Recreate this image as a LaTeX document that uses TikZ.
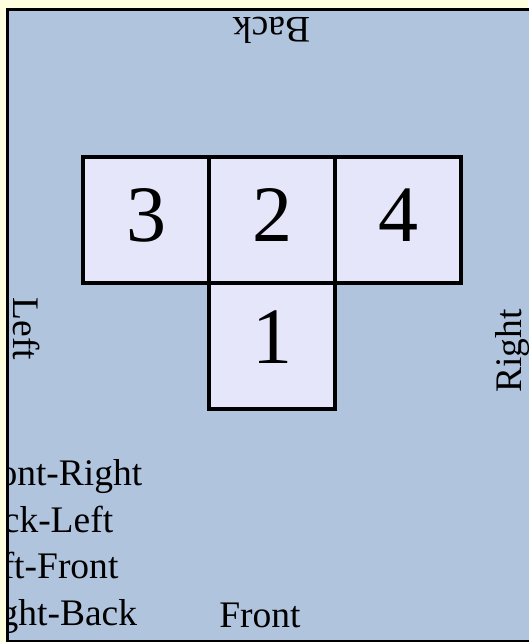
\documentclass[tikz,border=0pt]{standalone}
\usepackage{fontspec}
\setmainfont{Liberation Serif}
\definecolor{bgyellow}{HTML}{FFFFE0}
\definecolor{panel}{HTML}{B0C4DE}
\definecolor{face}{HTML}{E6E6FA}
\begin{document}
\begin{tikzpicture}[x=1pt,y=-1pt,
  sq/.style={draw=black, fill=face, line width=4pt, minimum size=126pt, inner sep=0pt, outer sep=0pt},
  num/.style={font=\fontsize{80}{96}\selectfont, inner sep=0pt, anchor=base},
  lbl/.style={font=\fontsize{37.5}{45}\selectfont, inner sep=0pt, anchor=base}]
\useasboundingbox (0,0) rectangle (528,642);
\fill[bgyellow] (0,0) rectangle (528,642);
\draw[line width=3pt, fill=panel] (7.5,10) rectangle (540,641);
% squares
\node[sq] (s3) at (146,220) {};
\node[sq] (s2) at (272,220) {};
\node[sq] (s4) at (398,220) {};
\node[sq] (s1) at (272,345.5) {};
\node[num] (n3) at (146,241) {3};
\node[num] (n2) at (272,241) {2};
\node[num] (n4) at (398,241) {4};
\node[num] (n1) at (272,363) {1};
% side labels
\node[lbl, rotate=180] (back) at (271.5,18) {Back};
\node[lbl] (front) at (260,627) {Front};
\node[lbl, rotate=-90] (left) at (13,329) {Left};
\node[lbl, rotate=90] (right) at (521,351) {Right};
% list, cut at the panel's left edge
\begin{scope}
\clip (6,0) rectangle (528,642);
\node[lbl, anchor=base west] (l1) at (-35,485) {Front-Right};
\node[lbl, anchor=base west] (l2) at (-39,532) {Back-Left};
\node[lbl, anchor=base west] (l3) at (-38,578) {Left-Front};
\node[lbl, anchor=base west] (l4) at (-36,625) {Right-Back};
\end{scope}
\draw[line width=3pt] (7.5,10) -- (7.5,641);
\end{tikzpicture}
\end{document}
